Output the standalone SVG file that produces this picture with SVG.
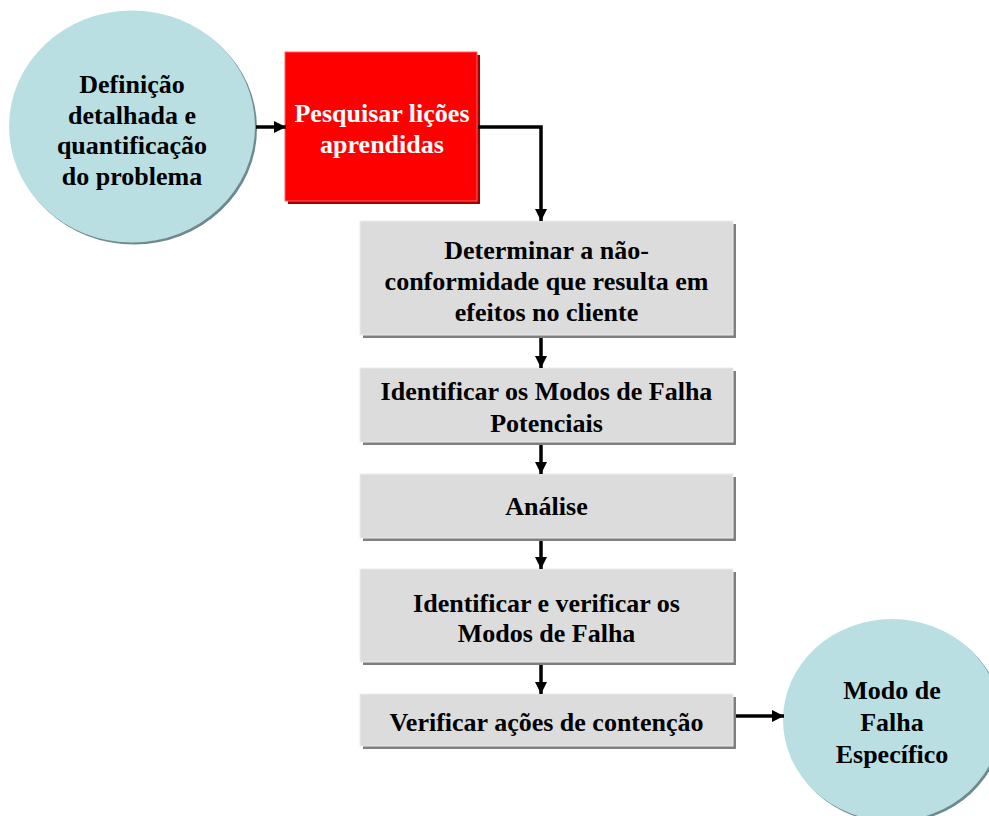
<svg xmlns="http://www.w3.org/2000/svg" width="989" height="816" viewBox="0 0 989 816">
<defs>
<marker id="ah" markerWidth="12" markerHeight="12" viewBox="0 0 12 12" refX="12" refY="6" orient="auto" markerUnits="userSpaceOnUse">
<path d="M0,0 L12,6 L0,12 z" fill="#000"/>
</marker>
</defs>
<style>
.t{font-family:"Liberation Serif","Times New Roman",serif;font-weight:bold;font-size:26px;text-anchor:middle;fill:#000}
.w{fill:#fff}
.box{fill:#dcdcdc;stroke:#ececec;stroke-width:1}
.bsh{fill:#7f7f7f}
.circ{fill:#b9dfe2}
.csh{fill:#6e8a8c}
.c{fill:none;stroke:#000;stroke-width:3.5}
</style>
<rect width="989" height="816" fill="#fff"/>
<g id="n-definicao">
<ellipse class="csh" cx="134" cy="128.5" rx="123" ry="116"/>
<ellipse class="circ" cx="132" cy="126.5" rx="123" ry="116"/>
<text class="t" x="132" y="93">Definição</text>
<text class="t" x="132" y="124">detalhada e</text>
<text class="t" x="132" y="154">quantificação</text>
<text class="t" x="132" y="185">do problema</text>
</g>
<g id="n-pesquisar">
<rect x="288" y="55" width="192" height="149" fill="#a00000"/>
<rect x="285" y="52" width="192" height="149" fill="#ff0000" stroke="#ff6060" stroke-width="1"/>
<text class="t w" x="382" y="122">Pesquisar lições</text>
<text class="t w" x="382" y="153">aprendidas</text>
</g>
<g id="n-determinar">
<rect class="bsh" x="363" y="224" width="373" height="114"/>
<rect class="box" x="360" y="221" width="373" height="114"/>
<text class="t" x="546.5" y="259">Determinar a não-</text>
<text class="t" x="546.5" y="290">conformidade que resulta em</text>
<text class="t" x="546.5" y="321">efeitos no cliente</text>
</g>
<g id="n-identificar-modos">
<rect class="bsh" x="363" y="371" width="373" height="74"/>
<rect class="box" x="360" y="368" width="373" height="74"/>
<text class="t" x="546.5" y="400">Identificar os Modos de Falha</text>
<text class="t" x="546.5" y="432">Potenciais</text>
</g>
<g id="n-analise">
<rect class="bsh" x="363" y="477" width="373" height="64"/>
<rect class="box" x="360" y="474" width="373" height="64"/>
<text class="t" x="546.5" y="515">Análise</text>
</g>
<g id="n-identificar-verificar">
<rect class="bsh" x="363" y="572" width="373" height="93"/>
<rect class="box" x="360" y="569" width="373" height="93"/>
<text class="t" x="546.5" y="612">Identificar e verificar os</text>
<text class="t" x="546.5" y="642">Modos de Falha</text>
</g>
<g id="n-verificar-acoes">
<rect class="bsh" x="363" y="697" width="373" height="52"/>
<rect class="box" x="360" y="694" width="373" height="52"/>
<text class="t" x="546.5" y="731">Verificar ações de contenção</text>
</g>
<g id="n-modo-falha">
<ellipse class="csh" cx="894" cy="722" rx="109" ry="101"/>
<ellipse class="circ" cx="892" cy="720" rx="109" ry="101"/>
<text class="t" x="892" y="699">Modo de</text>
<text class="t" x="892" y="731">Falha</text>
<text class="t" x="892" y="763">Específico</text>
</g>
<g id="connectors">
<path class="c" d="M256,127 H286" marker-end="url(#ah)"/>
<path class="c" d="M478,127 H541 V221" marker-end="url(#ah)"/>
<path class="c" d="M541,338 V368" marker-end="url(#ah)"/>
<path class="c" d="M541,445 V474" marker-end="url(#ah)"/>
<path class="c" d="M541,541 V569" marker-end="url(#ah)"/>
<path class="c" d="M541,665 V694" marker-end="url(#ah)"/>
<path class="c" d="M736,716 H784" marker-end="url(#ah)"/>
</g>
</svg>
